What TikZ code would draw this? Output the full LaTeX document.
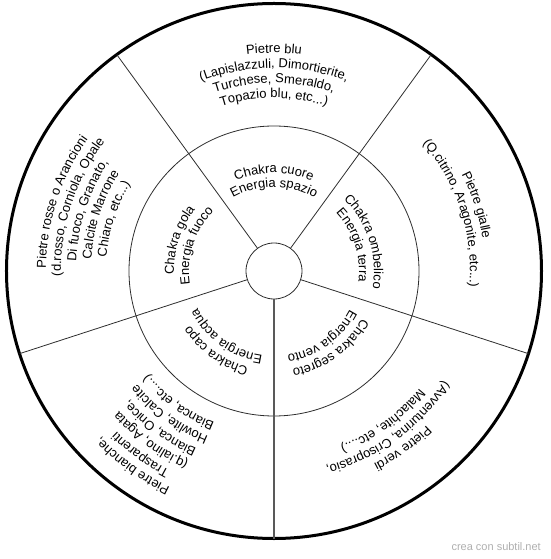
\documentclass[tikz,border=0pt]{standalone}
\usepackage{fontspec}
\setmainfont{Liberation Sans}
\usetikzlibrary{decorations.text}
\definecolor{rim}{RGB}{0,0,0}
\definecolor{rule}{RGB}{45,45,45}
\definecolor{credit}{RGB}{175,175,175}
\newcommand{\ringfont}{\fontsize{13pt}{15pt}\selectfont}
% one line of text bent along a circle round the centre (angle, radius, text)
\newcommand{\ringline}[3]{%
  \path[decorate,decoration={text along path,text align=center,
      text={|\ringfont|#3}}]
    (#1+70:#2pt) arc[start angle=#1+70,end angle=#1-70,radius=#2pt];}

\begin{document}
\begin{tikzpicture}[x=1pt,y=1pt,
    ring/.style={line width=0.8pt,rule},
    spoke/.style={line width=0.8pt,rule}]
  \useasboundingbox (-274,-288) rectangle (276,271);
  % circles
  \draw[line width=3pt,rim] (0,0) circle[radius=267.5pt];
  \draw[ring] (0,0) circle[radius=145pt];
  \draw[ring] (0,0) circle[radius=28pt];
  % spokes
  \foreach \a in {54,126,198,342}
    \draw[spoke] (\a:28pt) -- (\a:267.5pt);
  \draw[spoke,line width=1.3pt,black!65] (270:28pt) -- (270:267.5pt);

  % chakras
  \ringline{90}{98}{Chakra cuore}
  \ringline{90}{84}{Energia spazio}
  \ringline{162}{100}{Chakra gola}
  \ringline{162}{85}{Energia fuoco}
  \ringline{18}{100}{Chakra ombelico}
  \ringline{18}{85}{Energia terra}
  \ringline{234}{100}{Chakra capo}
  \ringline{234}{85}{Energia acqua}
  \ringline{306}{100}{Chakra segreto}
  \ringline{306}{85}{Energia vento}

  % stones
  \ringline{90}{218}{Pietre blu}
  \ringline{90}{203}{(Lapislazzuli, Dimortierite,}
  \ringline{90}{188}{Turchese, Smeraldo,}
  \ringline{90}{173}{Topazio blu, etc...)}

  \ringline{162}{228}{Pietre rosse o Arancioni}
  \ringline{162}{213}{(d.rosso, Corniola, Opale}
  \ringline{162}{198}{Di fuoco, Granato,}
  \ringline{162}{183}{Calcite Marrone}
  \ringline{162}{168}{Chiaro, etc...)}

  \ringline{18}{211}{Pietre gialle}
  \ringline{18}{196}{(Q.citrino, Aragonite, etc...)}

  \ringline{234}{240}{Pietre bianche,}
  \ringline{234}{225}{Trasparenti}
  \ringline{234}{209}{(q.ialino, Agata}
  \ringline{234}{194}{Bianca, Onice,}
  \ringline{234}{178}{Howlite, Calcite}
  \ringline{234}{163}{Bianca, etc....)}

  \ringline{306}{217}{Pietre verdi}
  \ringline{306}{202}{(Avventurina, Crisoprasio,}
  \ringline{306}{187}{Malachite, etc....)}

  \node[anchor=east,text=credit,font=\fontsize{11pt}{13pt}\selectfont,inner sep=0pt]
    (mark) at (267,-276) {crea con subtil.net};
\end{tikzpicture}
\end{document}
